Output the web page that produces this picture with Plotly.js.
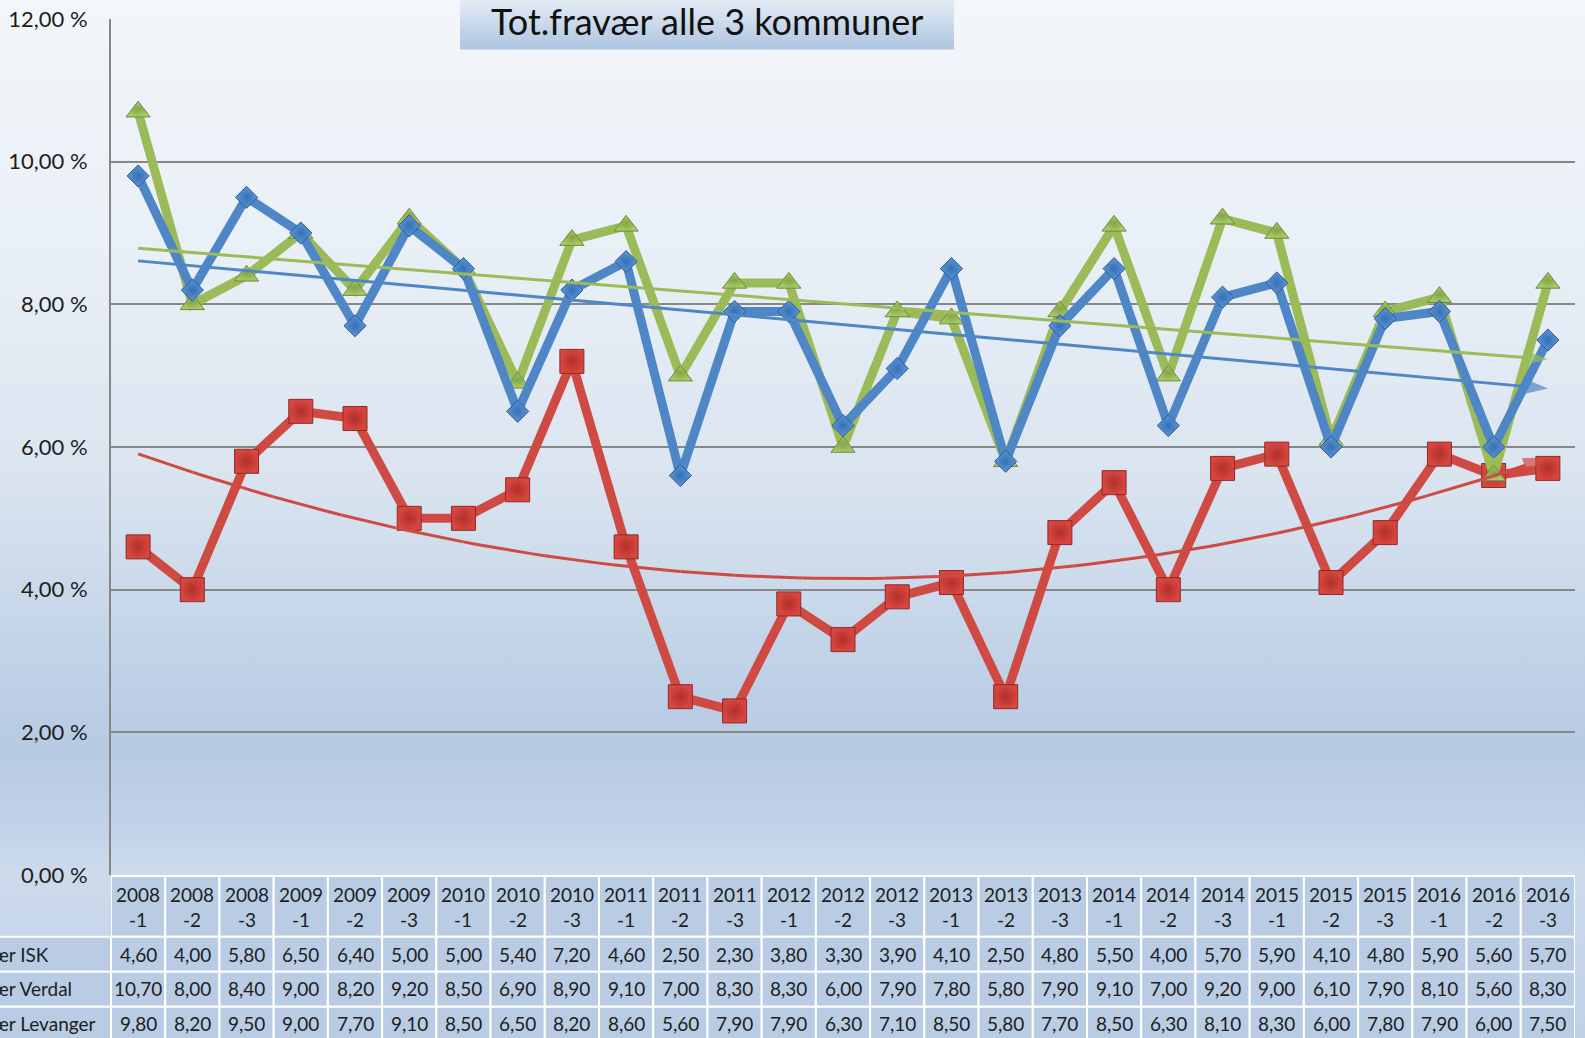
<!DOCTYPE html>
<html><head><meta charset="utf-8">
<script src="https://cdn.plot.ly/plotly-3.0.1.min.js"></script>
<style>
html,body{margin:0;padding:0;background:#ffffff;}
#chart{width:1585px;height:1038px;background:linear-gradient(to bottom,#f3f6fa 0%,#eaf0f7 22%,#dbe5f0 45%,#c3d4e8 62%,#b6cae2 72%,#c2d2e8 80%,#cddaec 84%,#c0d1e7 100%);}
</style></head><body><div id="chart"></div>
<script>
// ---- data ----
const categories = ["2008-1","2008-2","2008-3","2009-1","2009-2","2009-3","2010-1","2010-2","2010-3",
  "2011-1","2011-2","2011-3","2012-1","2012-2","2012-3","2013-1","2013-2","2013-3",
  "2014-1","2014-2","2014-3","2015-1","2015-2","2015-3","2016-1","2016-2","2016-3"];
const seriesNames = ["Fravær ISK","Fravær Verdal","Fravær Levanger"];
const isk      = [4.6,4.0,5.8,6.5,6.4,5.0,5.0,5.4,7.2,4.6,2.5,2.3,3.8,3.3,3.9,4.1,2.5,4.8,5.5,4.0,5.7,5.9,4.1,4.8,5.9,5.6,5.7];
const verdal   = [10.7,8.0,8.4,9.0,8.2,9.2,8.5,6.9,8.9,9.1,7.0,8.3,8.3,6.0,7.9,7.8,5.8,7.9,9.1,7.0,9.2,9.0,6.1,7.9,8.1,5.6,8.3];
const levanger = [9.8,8.2,9.5,9.0,7.7,9.1,8.5,6.5,8.2,8.6,5.6,7.9,7.9,6.3,7.1,8.5,5.8,7.7,8.5,6.3,8.1,8.3,6.0,7.8,7.9,6.0,7.5];
const yTicks = [0,2,4,6,8,10,12];
const titleText = "Tot.fravær alle 3 kommuner";

// ---- helpers ----
const xs = categories.map((c,i)=>i+1);
function linFit(x,y){const n=x.length;let sx=0,sy=0,sxx=0,sxy=0;for(let i=0;i<n;i++){sx+=x[i];sy+=y[i];sxx+=x[i]*x[i];sxy+=x[i]*y[i];}
  const b=(n*sxy-sx*sy)/(n*sxx-sx*sx);const a=(sy-b*sx)/n;return t=>a+b*t;}
function polyFit2(x,y){const S=[0,0,0,0,0],T=[0,0,0];for(let i=0;i<x.length;i++){for(let k=0;k<5;k++)S[k]+=Math.pow(x[i],k);for(let k=0;k<3;k++)T[k]+=y[i]*Math.pow(x[i],k);}
  const M=[[S[0],S[1],S[2],T[0]],[S[1],S[2],S[3],T[1]],[S[2],S[3],S[4],T[2]]];
  for(let c=0;c<3;c++){for(let r=c+1;r<3;r++){const f=M[r][c]/M[c][c];for(let k=c;k<4;k++)M[r][k]-=f*M[c][k];}}
  const co=[0,0,0];for(let r=2;r>=0;r--){let s=M[r][3];for(let k=r+1;k<3;k++)s-=M[r][k]*co[k];co[r]=s/M[r][r];}
  return t=>co[0]+co[1]*t+co[2]*t*t;}
const fmt = v => v.toFixed(2).replace('.',',');

const colBlue='#4f86c6', colGreen='#9bbb59', colRed='#cf4a43';
const tx=[]; for(let t=1;t<=27.0001;t+=0.25) tx.push(t);
function trendTrace(f,color){
  const y=tx.map(f);const sizes=tx.map((t,i)=>i===tx.length-1?26:0);
  return {x:tx,y:y,mode:'lines+markers',line:{color:color,width:3},
    marker:{symbol:'arrow',angleref:'previous',size:sizes,color:color,line:{width:0}},hoverinfo:'skip',showlegend:false};
}
const traces=[
  {x:xs,y:isk,name:seriesNames[0],mode:'lines+markers',line:{color:colRed,width:9},
   marker:{symbol:'square',size:24,color:'#d8463f',gradient:{type:'radial',color:'#b0302b'},line:{color:'#8e2b29',width:1}}},
  {x:xs,y:verdal,name:seriesNames[1],mode:'lines+markers',line:{color:colGreen,width:9},
   marker:{symbol:'triangle-up',size:21,color:'#a8cb6a',gradient:{type:'radial',color:'#84a445'},line:{color:'#6f8a38',width:1}}},
  {x:xs,y:levanger,name:seriesNames[2],mode:'lines+markers',line:{color:colBlue,width:9},
   marker:{symbol:'diamond',size:17,color:'#5e96d8',gradient:{type:'radial',color:'#3470b2'},line:{color:'#2a5a94',width:1}}},
  trendTrace(polyFit2(xs,isk),colRed),
  trendTrace(linFit(xs,verdal),colGreen),
  trendTrace(linFit(xs,levanger),colBlue)
];

// ---- layout geometry ----
const W=1585,H=1038,L=111,R=10,T=19,B=163;
const PH=H-T-B, PW=W-L-R;
const py = p => (H-B-p)/PH;      // pixel y -> paper y
const px = p => (p-L)/PW;        // pixel x -> paper x

const shapes=[], annotations=[];
const cellFill='#b9cce4';
const txtFont={size:19,color:'#1e1e1e'};
const rowsPix=[[876,936.7],[936.7,971.7],[971.7,1006.7],[1006.7,1045]];
categories.forEach((c,i)=>{
  rowsPix.forEach(r=>{
    shapes.push({type:'rect',xref:'x',yref:'paper',x0:i+0.5,x1:i+1.5,y0:py(r[1]),y1:py(r[0]),
      fillcolor:cellFill,line:{color:'#ffffff',width:2},layer:'above'});
  });
  const parts=c.split('-');
  annotations.push({xref:'x',yref:'paper',x:i+1,y:py(906.5),xanchor:'center',yanchor:'middle',
    text:parts[0]+'<br>-'+parts[1],showarrow:false,font:txtFont,align:'center'});
});
const seriesVals=[isk,verdal,levanger];
seriesVals.forEach((vals,s)=>{
  const r=rowsPix[s+1];const cy=[954,988.5,1023][s];
  shapes.push({type:'rect',xref:'paper',yref:'paper',x0:px(-40),x1:0,y0:py(r[1]),y1:py(r[0]),
    fillcolor:cellFill,line:{color:'#ffffff',width:2},layer:'above'});
  annotations.push({xref:'paper',yref:'paper',x:px(-44),y:py(cy),xanchor:'left',yanchor:'middle',
    text:seriesNames[s],showarrow:false,font:txtFont});
  vals.forEach((v,i)=>{
    annotations.push({xref:'x',yref:'paper',x:i+1,y:py(cy),xanchor:'center',yanchor:'middle',
      text:fmt(v),showarrow:false,font:txtFont});
  });
});
// title box (gradient bands)
const tb0=460,tb1=954,tt=0,tbm=49,nb=12;
const c0=[226,234,244],c1=[176,198,225];
for(let k=0;k<nb;k++){
  const f=k/(nb-1);const col='rgb('+c0.map((a,j)=>Math.round(a+(c1[j]-a)*f)).join(',')+')';
  const y0p=tt+(tbm-tt)*k/nb, y1p=tt+(tbm-tt)*(k+1)/nb;
  shapes.push({type:'rect',xref:'paper',yref:'paper',x0:px(tb0),x1:px(tb1),y0:py(y1p+0.5),y1:py(y0p),
    fillcolor:col,line:{width:0},layer:'above'});
}
annotations.push({xref:'paper',yref:'paper',x:px((tb0+tb1)/2),y:py(21),xanchor:'center',yanchor:'middle',
  text:titleText,showarrow:false,font:{size:36,color:'#111111'}});

const layout={
  width:W,height:H,margin:{l:L,r:R,t:T,b:B,pad:0},
  paper_bgcolor:'rgba(0,0,0,0)',plot_bgcolor:'rgba(0,0,0,0)',
  font:{family:'Lato, "Open Sans", sans-serif',color:'#1e1e1e'},
  separators:', ',
  showlegend:false,
  xaxis:{range:[0.5,27.5],showgrid:false,zeroline:false,showticklabels:false,showline:false,fixedrange:true},
  yaxis:{range:[0,12],tickmode:'array',tickvals:yTicks,ticktext:yTicks.map(v=>fmt(v)+' %'),
    tickfont:{size:22,color:'#1e1e1e'},
    showgrid:true,gridcolor:'#878787',gridwidth:2,zeroline:false,showline:true,linecolor:'#878787',linewidth:2,
    ticks:'',ticklabelstandoff:17,fixedrange:true},
  shapes:shapes,annotations:annotations
};
Plotly.newPlot('chart',traces,layout,{staticPlot:true,displayModeBar:false});
</script></body></html>
